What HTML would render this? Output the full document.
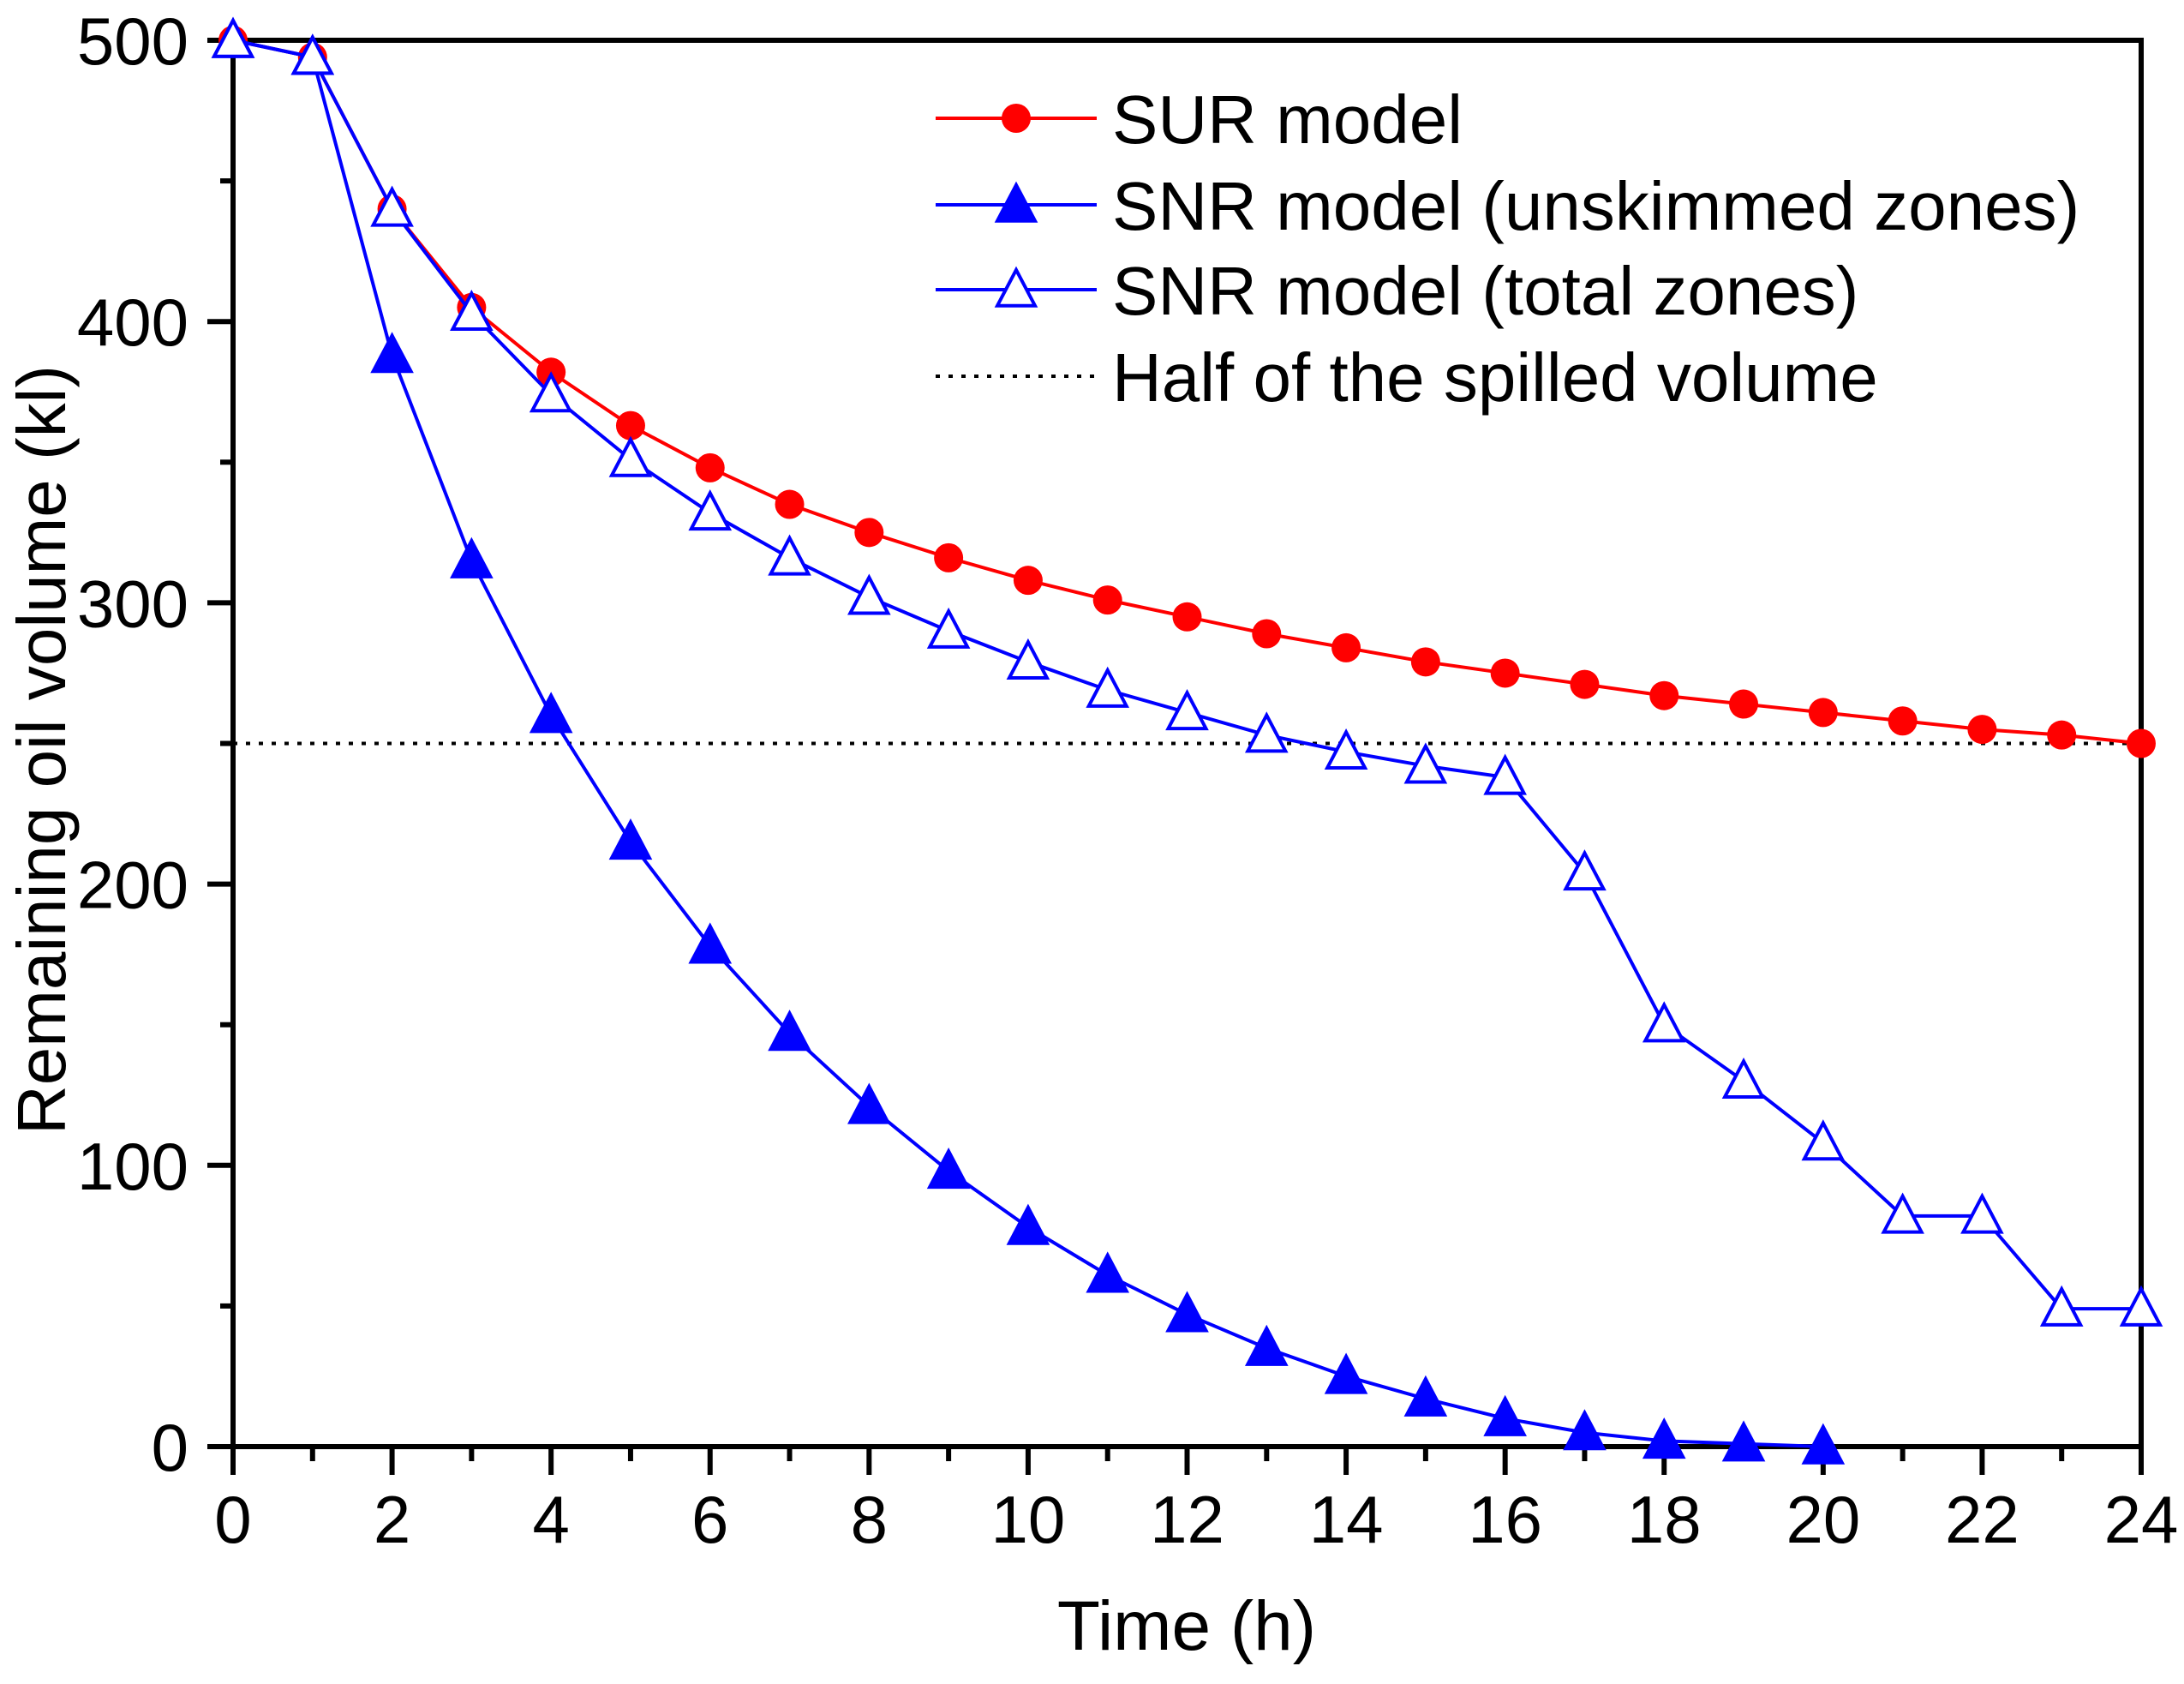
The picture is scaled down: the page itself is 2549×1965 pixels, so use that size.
<!DOCTYPE html>
<html><head><meta charset="utf-8"><style>
html,body{margin:0;padding:0;background:#fff;}
svg text{font-family:"Liberation Sans",Arial,sans-serif;fill:#000;}
</style></head><body>
<svg id="chart" width="2549" height="1960" xmlns="http://www.w3.org/2000/svg">
<g id="axes"></g><g id="series"></g><g id="legend"></g>
</svg>
<script>
const hours = [0,1,2,3,4,5,6,7,8,9,10,11,12,13,14,15,16,17,18,19,20,21,22,23,24];
const surModel = [500,494,440,405,382,363,348,335,325,316,308,301,295,289,284,279,275,271,267,264,261,258,255,253,250];
const snrUnskimmed = [500,494,388,315,260,215,178,147,121,98,78,61,47,35,25,17,10,5,2,1,0];
const snrTotal = [500,494,440,403,374,351,332,316,302,290,279,269,261,253,247,242,238,204,150,130,108,82,82,49,49];
const halfVolume = 250;
const xTicks = [0,2,4,6,8,10,12,14,16,18,20,22,24];
const yTicks = [0,100,200,300,400,500];

const L=272,R=2499,T=47,B=1688;
const sx=v=>L+(v-0)/(24-0)*(R-L);
const sy=v=>B-(v-0)/(500-0)*(B-T);
const NS='http://www.w3.org/2000/svg';
function mk(tag,attrs,parent){const e=document.createElementNS(NS,tag);for(const k in attrs)e.setAttribute(k,attrs[k]);parent.appendChild(e);return e;}
const axes=document.getElementById('axes'),ser=document.getElementById('series'),leg=document.getElementById('legend');

let hl=mk('line',{x1:sx(0),x2:sx(24),y1:sy(halfVolume),y2:sy(halfVolume),stroke:'#000','stroke-width':4,'stroke-dasharray':'5,10'},ser);



function tri(cx,cy,filled,color,g,name){
  const s=22;
  const p=mk('polygon',{points:`${cx-s},${cy+s*0.85} ${cx+s},${cy+s*0.85} ${cx},${cy-s*1.05}`,fill:filled?color:'#fff',stroke:color,'stroke-width':4},g);
  
  
}
function series(vals,color,kind,name){
  const g=mk('g',{},ser);
  
  
  const pts=vals.map((v,i)=>sx(hours[i])+','+sy(v)).join(' ');
  const pl=mk('polyline',{points:pts,fill:'none',stroke:color,'stroke-width':4},g);
  
  
  vals.forEach((v,i)=>{
    if(kind==='circle'){
      const c=mk('circle',{cx:sx(hours[i]),cy:sy(v),r:17,fill:color},g);
      
      
    } else tri(sx(hours[i]),sy(v),kind==='tri-filled',color,g,name+'-point');
  });
}
series(surModel,'#ff0000','circle','sur-model-series');
series(snrUnskimmed,'#0000ff','tri-filled','snr-unskimmed-series');
series(snrTotal,'#0000ff','tri-open','snr-total-series');

const fr=mk('rect',{x:L,y:T,width:R-L,height:B-T,fill:'none',stroke:'#000','stroke-width':6},axes);


for(let h=0;h<=24;h++){
  const major=h%2===0;
  const t=mk('line',{x1:sx(h),x2:sx(h),y1:B,y2:B+(major?33:17),stroke:'#000','stroke-width':6},axes);
  
  
}
xTicks.forEach(v=>{
  const t=mk('text',{x:sx(v),y:1800,'font-size':78,'text-anchor':'middle'},axes);
  t.textContent=v;
  
  
});
for(let v=0;v<=500;v+=50){
  const major=v%100===0;
  const t=mk('line',{x1:L,x2:L-(major?30:15),y1:sy(v),y2:sy(v),stroke:'#000','stroke-width':6},axes);
  
  
}
yTicks.forEach(v=>{
  const t=mk('text',{x:220,y:sy(v)+28,'font-size':78,'text-anchor':'end'},axes);
  t.textContent=v;
  
  
});
let xt=mk('text',{x:1385,y:1925,'font-size':82,'text-anchor':'middle'},axes);
xt.textContent='Time (h)';


let yt=mk('text',{x:0,y:0,'font-size':80,'text-anchor':'middle',transform:'translate(76,875) rotate(-90)'},axes);
yt.textContent='Remaining oil volume (kl)';



const legendLabels=['SUR model','SNR model (unskimmed zones)','SNR model (total zones)','Half of the spilled volume'];
const rows=[138,239,338,439];
const lx1=1092,lx2=1280,tx=1298;
rows.forEach((y,i)=>{
  const g=mk('g',{},leg);
  
  
  if(i<3){
    mk('line',{x1:lx1,x2:lx2,y1:y,y2:y,stroke:i===0?'#ff0000':'#0000ff','stroke-width':4},g);
    const cx=(lx1+lx2)/2;
    if(i===0) mk('circle',{cx:cx,cy:y,r:17,fill:'#ff0000'},g);
    else tri(cx,y,i===1,'#0000ff',g,'legend-marker');
  } else {
    mk('line',{x1:lx1,x2:lx2,y1:y,y2:y,stroke:'#000','stroke-width':4,'stroke-dasharray':'5,10'},g);
  }
  const t=mk('text',{x:tx,y:y+29,'font-size':80},g);
  t.textContent=legendLabels[i];
});
</script>
</body></html>
